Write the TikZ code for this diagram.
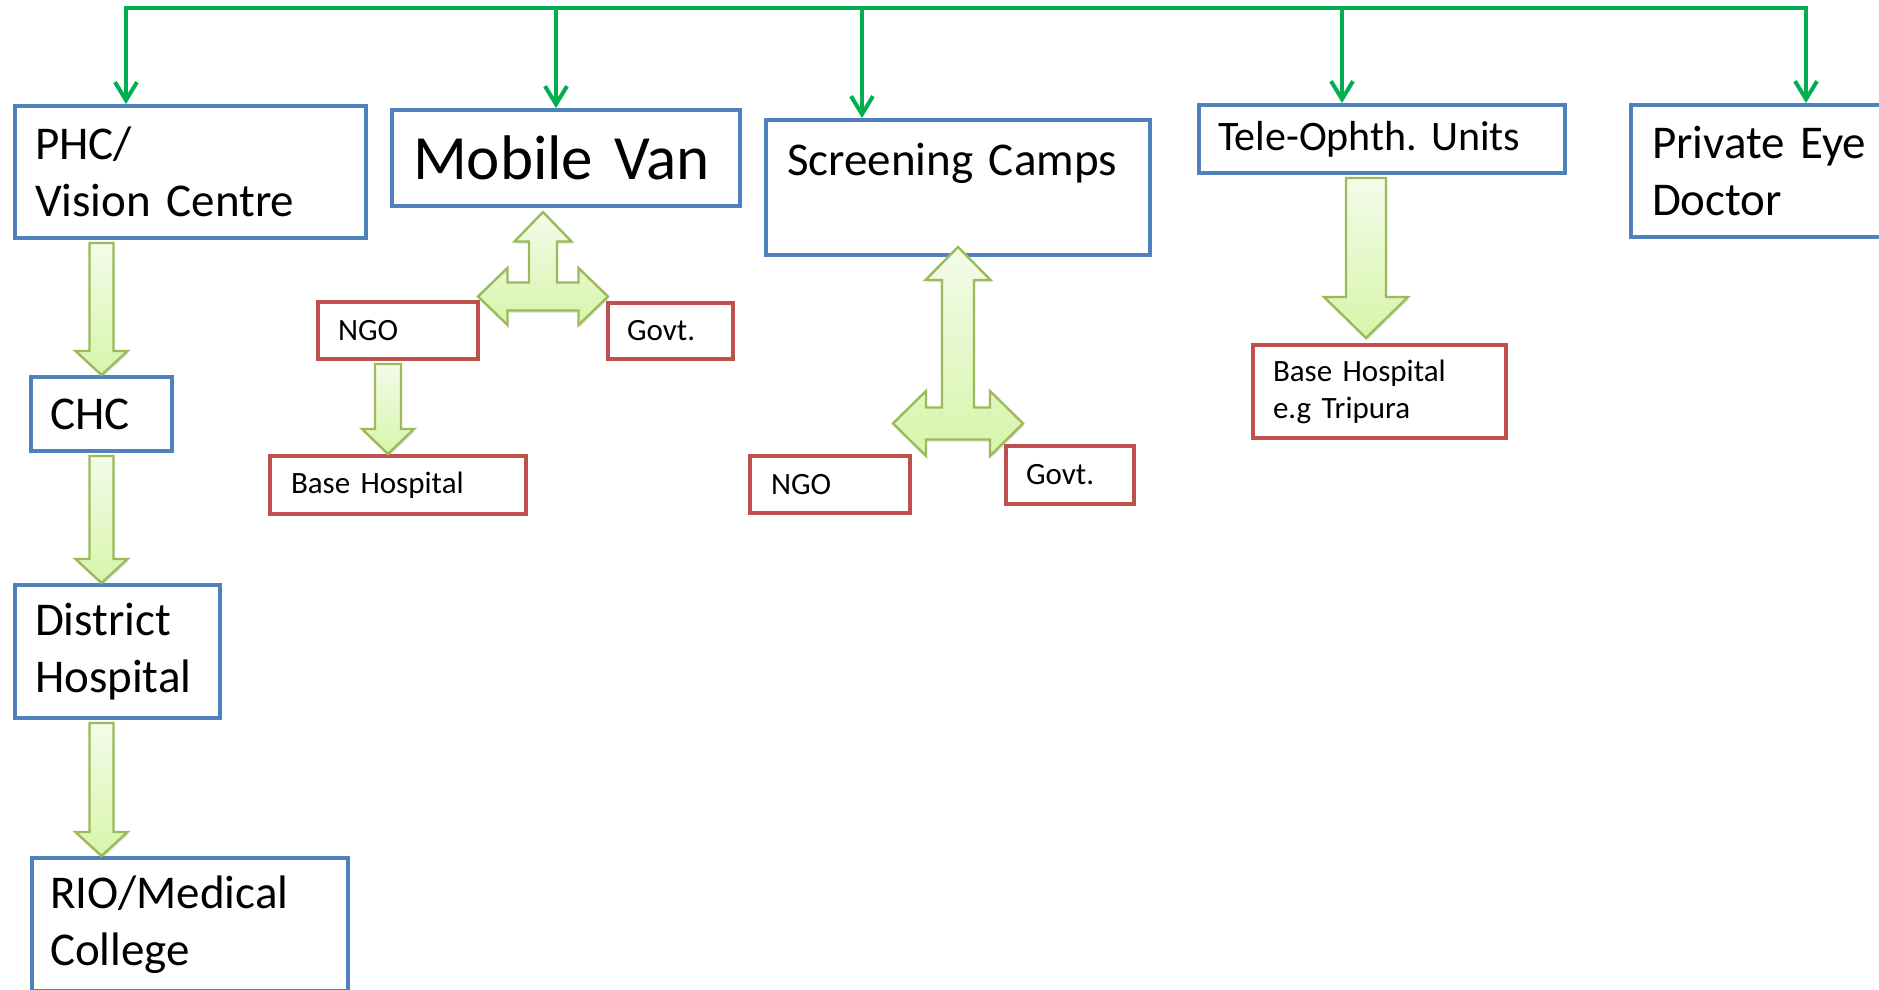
\documentclass[tikz,border=0pt]{standalone}
\usepackage{fontspec}
\setmainfont{Carlito}
\usetikzlibrary{arrows.meta,calc,shadows}
\frenchspacing

\definecolor{tierblue}{HTML}{4F81BD}
\definecolor{partnerred}{HTML}{C0504D}
\definecolor{feedgreen}{HTML}{00B050}
\definecolor{blockrim}{HTML}{9BBB59}
\definecolor{blocktop}{HTML}{F3FBEA}
\definecolor{blockbot}{HTML}{D7F5AA}

% #1 from node, #2 tip, #3 half shaft, #4 half head, #5 head length
\newcommand{\blockdown}[5]{%
  \filldraw[blockarrow] let \p1=#2, \p2=(#1.south) in
    (\x1-#3,\y2-1.5pt) -- (\x1+#3,\y2-1.5pt) -- (\x1+#3,\y1+#5) -- (\x1+#4,\y1+#5)
    -- (\p1) -- (\x1-#4,\y1+#5) -- (\x1-#3,\y1+#5) -- cycle;}

% #1 hub, #2 up, #3 side, #4 half shaft, #5 half head, #6 head length
\newcommand{\blocktee}[6]{%
  \filldraw[blockarrow] let \p1=#1 in
    (\x1,\y1+#2) -- (\x1+#5,\y1+#2-#6) -- (\x1+#4,\y1+#2-#6) -- (\x1+#4,\y1+#4)
    -- (\x1+#3-#6,\y1+#4) -- (\x1+#3-#6,\y1+#5) -- (\x1+#3,\y1) -- (\x1+#3-#6,\y1-#5)
    -- (\x1+#3-#6,\y1-#4) -- (\x1-#3+#6,\y1-#4) -- (\x1-#3+#6,\y1-#5) -- (\x1-#3,\y1)
    -- (\x1-#3+#6,\y1+#5) -- (\x1-#3+#6,\y1+#4) -- (\x1-#4,\y1+#4) -- (\x1-#4,\y1+#2-#6)
    -- (\x1-#5,\y1+#2-#6) -- cycle;}

\begin{document}
\begin{tikzpicture}[x=0.5pt,y=-0.5pt]
\tikzstyle{tier}=[draw=tierblue,line width=2pt,fill=white,anchor=north west,align=left,inner ysep=0pt,font=\fontsize{23.5}{28.5}\selectfont]
\tikzstyle{partner}=[tier,draw=partnerred,font=\fontsize{15.5}{18.5}\selectfont]
\tikzstyle{feed}=[draw=feedgreen,line width=2pt]
\tikzstyle{blockarrow}=[draw=blockrim,line width=1.2pt,top color=blocktop,bottom color=blockbot,drop shadow={opacity=0.18,shadow xshift=0.6pt,shadow yshift=-1.2pt}]
\useasboundingbox (0,0) rectangle (1879,990);

\node[tier,inner xsep=10pt,text width=155.5pt,minimum height=66pt] (phc) at (13,104) {PHC/\\Vision Centre};
\node[tier,inner xsep=10.5pt,text width=153pt,minimum height=48pt,font=\fontsize{31.5}{38}\selectfont] (mv) at (390,108) {Mobile Van};
\node[tier,inner xsep=10.5pt,text width=171pt,minimum height=67.5pt,text depth=28pt] (sc) at (764,118) {Screening Camps};
\node[tier,inner xsep=9.5pt,text width=164pt,minimum height=34pt,font=\fontsize{21}{25.5}\selectfont] (tele) at (1197,103) {Tele-Ophth. Units};
\node[tier,inner xsep=10.5pt,text width=134pt,minimum height=66pt] (ped) at (1629,103) {Private Eye\\Doctor};
\node[tier,inner xsep=9.5pt,text width=51.5pt,minimum height=37pt] (chc) at (29,375) {CHC};
\node[tier,inner xsep=10pt,text width=82.5pt,minimum height=66.5pt] (dh) at (13,583) {District\\Hospital};
\node[tier,inner xsep=9pt,text width=140pt,minimum height=66.5pt] (rio) at (30,856) {RIO/Medical\\College};

\node[partner,inner xsep=10pt,text width=60pt,minimum height=28.5pt] (ngo1) at (316,300) {NGO};
\node[partner,inner xsep=9.5pt,text width=43.5pt,minimum height=28pt] (govt1) at (606,301) {Govt.};
\node[partner,inner xsep=10.5pt,text width=107pt,minimum height=29pt] (base1) at (268,454) {Base Hospital};
\node[partner,inner xsep=10.5pt,text width=59pt,minimum height=28.5pt] (ngo2) at (748,454) {NGO};
\node[partner,inner xsep=10pt,text width=44pt,minimum height=29pt] (govt2) at (1004,444) {Govt.};
\node[partner,inner xsep=10pt,text width=106.5pt,minimum height=46.5pt] (tbase) at (1251,343) {Base Hospital\\e.g Tripura};

\foreach \n/\x in {phc/126,mv/556,sc/862,tele/1342,ped/1806}
  \coordinate (bus-\n) at (\x,8);
\draw[feed,line cap=rect] (bus-phc) -- (bus-ped);
\foreach \n in {phc,mv,sc,tele,ped}
  \draw[feed,-{Straight Barb[length=9pt,width=11pt]}] (bus-\n) -- (bus-\n |- \n.north);

\blockdown{phc}{(chc.north)}{6pt}{13pt}{12pt}
\blockdown{chc}{(chc.south |- dh.north)}{6pt}{13pt}{12pt}
\blockdown{dh}{(chc.south |- rio.north)}{6pt}{13pt}{12pt}
\blockdown{ngo1}{([xshift=-5pt]base1.north)}{6.5pt}{13pt}{12.5pt}
\blockdown{tele}{([xshift=-6.75pt,yshift=2.5pt]tbase.north)}{10pt}{21pt}{20.5pt}

\coordinate (mvhub) at ($(ngo1.north east)!0.5!(govt1.north west)+(0,-4)$);
\blocktee{(mvhub)}{42.25pt}{32.5pt}{7pt}{14.25pt}{14.75pt}
\coordinate (schub) at ($(ngo2.north east)!0.5!(govt2.north west)+(0,-25.5)$);
\blocktee{(schub)}{88.25pt}{32.5pt}{8pt}{16.25pt}{16.5pt}
\end{tikzpicture}
\end{document}
